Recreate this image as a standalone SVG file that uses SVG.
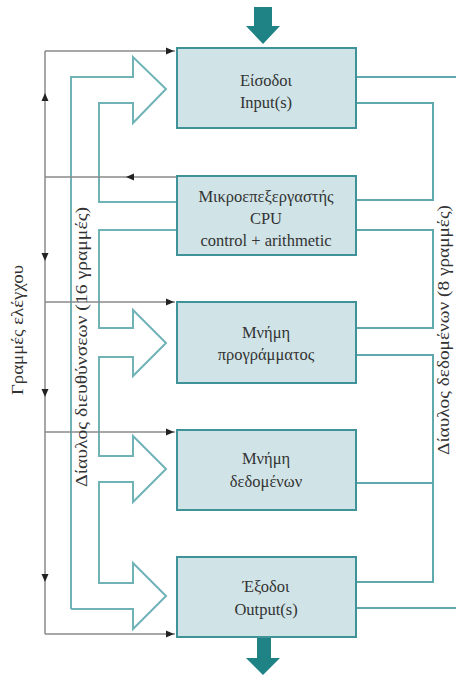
<svg xmlns="http://www.w3.org/2000/svg" width="456" height="677" viewBox="0 0 456 677">
<defs>
<style>
.box{fill:#d0e4e7;stroke:#3f9297;stroke-width:2}
.t{font-family:"Liberation Serif","DejaVu Serif",serif;font-size:16.5px;fill:#333;text-anchor:middle}
.bus{fill:none;stroke:#5fa9ac;stroke-width:2}
.hol{fill:none;stroke:#6fb3b6;stroke-width:2;stroke-linejoin:miter}
.ctl{fill:none;stroke:#8a8a8a;stroke-width:1.5}
.ah{fill:#222}
.fat{fill:#1f8284}
</style>
</defs>
<g id="connectors">
<!-- address bus hollow arrows -->
<path class="hol" d="M71 609V77H133V57L166 89L133 123V103H99V202H177"/>
<path class="hol" d="M177 230H99V328H133V310L166 343L133 376V357H99V456H133V436L166 469L133 502V482H99V583H133V563L166 596L133 629V609H71"/>
<!-- control lines -->
<path class="ctl" d="M45 51V634M45 51H175M45 177H177M45 302H175M45 432H175M45 634H175"/>
<path class="ah" d="M174 51l-8-3.5v7z"/>
<path class="ah" d="M126 177l8-3.5v7z"/>
<path class="ah" d="M174 302l-8-3.5v7z"/>
<path class="ah" d="M174 432l-8-3.5v7z"/>
<path class="ah" d="M174 634l-8-3.5v7z"/>
<path class="ah" d="M45 93l-3.5 8h7z"/>
<path class="ah" d="M45 261l-3.5-8h7z"/>
<path class="ah" d="M45 397l-3.5-8h7z"/>
<path class="ah" d="M45 582l-3.5-8h7z"/>
<!-- data bus -->
<path class="bus" d="M356 77H456M356 103H433V200H356M356 230H433V328H356M356 355H433V582H356M356 483H433M356 608H456"/>
<!-- fat arrows -->
<path class="fat" d="M254 7H272V26H280L263 44L246 26H254Z"/>
<path class="fat" d="M257 638H271V658H280L263 675L246 658H257Z"/>
</g>
<g id="input">
<rect class="box" x="177" y="48" width="179" height="80"/>
<text class="t" x="266" y="86">Είσοδοι</text>
<text class="t" x="266" y="108">Input(s)</text>
</g>
<g id="cpu">
<rect class="box" x="177" y="176" width="179" height="79"/>
<text class="t" x="266" y="202">Μικροεπεξεργαστής</text>
<text class="t" x="266" y="224">CPU</text>
<text class="t" x="266" y="246">control + arithmetic</text>
</g>
<g id="progmem">
<rect class="box" x="177" y="302" width="179" height="81"/>
<text class="t" x="266" y="338">Μνήμη</text>
<text class="t" x="266" y="360">προγράμματος</text>
</g>
<g id="datamem">
<rect class="box" x="177" y="430" width="179" height="80"/>
<text class="t" x="266" y="464">Μνήμη</text>
<text class="t" x="266" y="487">δεδομένων</text>
</g>
<g id="output">
<rect class="box" x="177" y="557" width="179" height="80"/>
<text class="t" x="266" y="592">Έξοδοι</text>
<text class="t" x="266" y="615">Output(s)</text>
</g>
<g id="labels">
<text class="t" transform="translate(23,330) rotate(-90)" textLength="130" lengthAdjust="spacingAndGlyphs">Γραμμές ελέγχου</text>
<text class="t" transform="translate(87,347) rotate(-90)" textLength="280" lengthAdjust="spacingAndGlyphs">Δίαυλος διευθύνσεων (16 γραμμές)</text>
<text class="t" transform="translate(449,330) rotate(-90)" textLength="250" lengthAdjust="spacingAndGlyphs">Δίαυλος δεδομένων (8 γραμμές)</text>
</g>
</svg>
